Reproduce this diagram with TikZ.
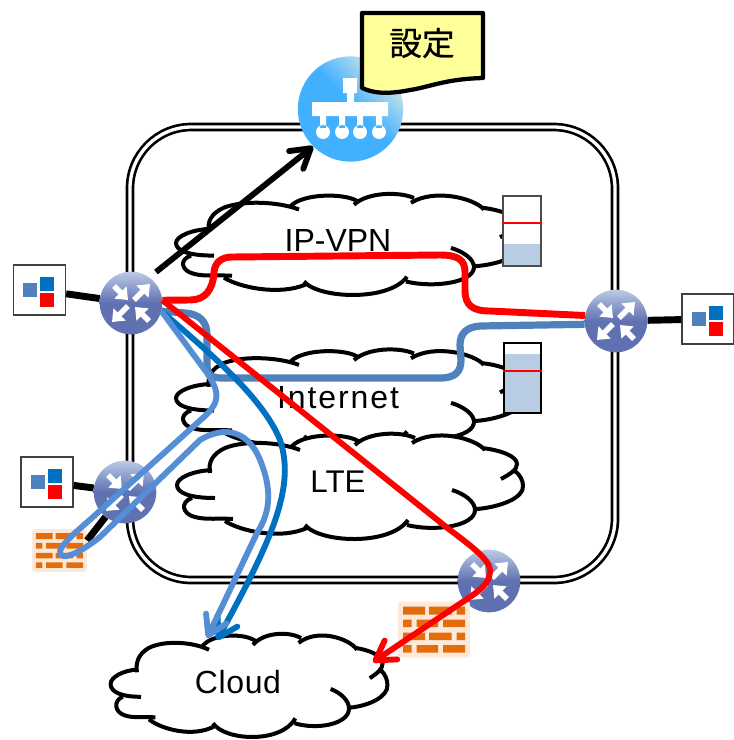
\documentclass[tikz,border=0pt]{standalone}
\usepackage{fontspec}
\setmainfont{Liberation Sans}
\newfontfamily\cjkfont[FakeBold=0.6]{Noto Sans CJK JP}
\usetikzlibrary{shapes,arrows,arrows.meta}
\definecolor{routerblue}{HTML}{6071B1}
\definecolor{routerlight}{HTML}{BCCAE6}
\definecolor{ctrlblue}{HTML}{41B0FF}
\definecolor{ctrllight}{HTML}{BFE0EA}
\definecolor{noteyellow}{HTML}{FFFF99}
\definecolor{brickorange}{HTML}{E46C0A}
\definecolor{brickback}{HTML}{FDE9D9}
\definecolor{levelblue}{HTML}{B8CCE4}
\definecolor{steelblue}{HTML}{4F81BD}
\definecolor{darkblue}{HTML}{0070C0}
\definecolor{lightblue}{HTML}{558ED5}
\pgfdeclareverticalshading{routershade}{100bp}{color(0bp)=(routerblue); color(50bp)=(routerblue); color(75bp)=(routerlight); color(100bp)=(routerlight)}
\pgfdeclareverticalshading{ctrlshade}{100bp}{color(0bp)=(ctrlblue); color(52bp)=(ctrlblue); color(72bp)=(ctrllight); color(100bp)=(ctrllight)}
\tikzstyle{frame} = [rectangle, draw=black, line width=2pt, double, double distance=2.5pt, rounded corners=46pt, minimum width=363.75pt, minimum height=339.75pt]
\tikzstyle{cloudline} = [draw=black, line width=3pt, fill=white]
\tikzstyle{cloudtext} = [font=\fontsize{24}{24}\selectfont, inner sep=0pt]
\tikzstyle{router} = [circle, shading=routershade, minimum size=47pt, inner sep=0pt]
\tikzstyle{ctrl} = [circle, shading=ctrlshade, shading angle=-45, minimum size=79pt, inner sep=0pt]
\tikzstyle{site} = [rectangle, draw=black!75, line width=1pt, fill=white, minimum width=39pt, minimum height=37.5pt, inner sep=0pt]
\tikzstyle{gauge} = [rectangle, draw=black!70, line width=1.3pt, fill=white, inner sep=0pt]
\tikzstyle{note} = [draw=black, line width=3.2pt, line join=round, fill=noteyellow]
\tikzstyle{firewall} = [rectangle, fill=brickback, rounded corners=2pt, minimum width=54pt, minimum height=42pt, inner sep=0pt, transform shape]
\tikzstyle{inarrow} = [draw=white, line width=4pt, -{Triangle[length=8pt,width=12.5pt]}]
\tikzstyle{wire} = [draw=black, line width=5.2pt]
\tikzstyle{arrow} = [line width=4.4pt, -{Straight Barb[length=14pt,width=17pt,round]}]
\newcommand{\netcloud}[5]{
  \begin{scope}[shift={(#2,#3)},xscale=#4,yscale=#5]
    \fill [white] (-140,-15) -- (-172,-3) -- (-165,20) -- (-125,33) -- (-83,47) -- (7,52) -- (83,40) -- (125,22) -- (173,-2) -- (167,-24) -- (132,-40) -- (97,-53) -- (33,-53) -- (-27,-52) -- (-90,-45) -- (-135,-35) -- cycle;
    \draw [cloudline] (-138,-18) .. controls (-158,-17) and (-173,-10) .. (-173,-3) .. controls (-173,5) and (-160,10) .. (-135,10)
      (-158,10) .. controls (-170,14) and (-168,26) .. (-155,29) .. controls (-145,32) and (-130,30) .. (-117,31)
      (-125,33) .. controls (-110,43) and (-70,52) .. (-43,40)
      (-45,37) .. controls (-30,55) and (40,58) .. (58,32)
      (57,37) .. controls (85,44) and (125,38) .. (125,22) .. controls (125,14) and (115,6) .. (102,2)
      (127,21) .. controls (150,19) and (174,10) .. (173,-2) .. controls (173,-8) and (170,-13) .. (165,-17)
      (151,-9) .. controls (160,-14) and (167,-18) .. (167,-24) .. controls (167,-32) and (150,-38) .. (132,-40)
      (135,-38) .. controls (125,-50) and (85,-60) .. (62,-45)
      (65,-50) .. controls (50,-57) and (18,-56) .. (5,-43)
      (8,-47) .. controls (-5,-55) and (-45,-55) .. (-58,-42)
      (-50,-38) .. controls (-70,-46) and (-105,-48) .. (-125,-40) .. controls (-138,-34) and (-142,-25) .. (-140,-15);
  \end{scope}
}
\newcommand{\routernode}[3]{
  \node (#1) [router] at (#2,#3) {};
  \draw [inarrow] ([shift={(-17,-17)}]#1.center) -- ([shift={(-3,-3)}]#1.center);
  \draw [inarrow] ([shift={(3,-3)}]#1.center) -- ([shift={(19,-19)}]#1.center);
  \draw [inarrow] ([shift={(-3,3)}]#1.center) -- ([shift={(-19,19)}]#1.center);
  \draw [inarrow] ([shift={(18,18)}]#1.center) -- ([shift={(4,4)}]#1.center);
}
\newcommand{\sitenode}[3]{
  \node (#1) [site] at (#2,#3) {};
  \fill [steelblue] ([shift={(-16.5,-7)}]#1.center) rectangle +(14,14);
  \fill [darkblue] ([shift={(0.5,-13)}]#1.center) rectangle +(14,14);
  \fill [red] ([shift={(0.5,3)}]#1.center) rectangle +(14,14);
}
\newcommand{\firewallnode}[4]{
  \begin{scope}[shift={(#2,#3)},scale=#4]
    \node (#1) [firewall] at (0,0) {};
    \fill [brickorange] (-31,-23) rectangle (-9,-15) (-5,-23) rectangle (17.5,-15) (22.5,-23) rectangle (31,-15)
      (-31,-10) rectangle (-22.5,-2.5) (-17.5,-10) rectangle (4,-2.5) (9,-10) rectangle (31,-2.5)
      (-31,3) rectangle (-9,10.5) (-5,3) rectangle (17.5,10.5) (22.5,3) rectangle (31,10.5)
      (-31,15.5) rectangle (-22.5,23) (-17.5,15.5) rectangle (4,23) (9,15.5) rectangle (31,23);
  \end{scope}
}
\begin{document}
\begin{tikzpicture}[x=0.75pt,y=-0.75pt]
        \useasboundingbox (0,0) rectangle (733,740);
        \node (domain) [frame] at (372.5,353.5) {};
        % the overlay networks
        \netcloud{vpncloud}{349}{246}{1}{0.96}
        \node (vpn) [cloudtext] at (338,240) {IP-VPN};
        \netcloud{netcloud}{349}{401}{1}{0.95}
        \node (net) [cloudtext] at (338,398) {\addfontfeature{LetterSpace=6}Internet};
        \netcloud{ltecloud}{350}{488}{1}{1}
        \node (lte) [cloudtext, font=\fontsize{23.5}{23.5}\selectfont] at (338,482) {LTE};
        \netcloud{extcloud}{249}{687}{0.8}{0.98}
        \node (ext) [cloudtext] at (238,682) {\addfontfeature{LetterSpace=2}Cloud};
        % queue levels
        \node (vpnbar) [gauge, minimum width=28pt, minimum height=52.5pt] at (522,231) {};
        \fill [levelblue] (504,244) rectangle (540,265);
        \draw [red, line width=1.1pt] (vpnbar.west |- 0,223) -- (vpnbar.east |- 0,223);
        \node (netbar) [gauge, draw=black, minimum width=27.5pt, minimum height=52.5pt] at (522.5,378) {};
        \fill [levelblue] (505,354) rectangle (540,412);
        \draw [red, line width=1.1pt] (netbar.west |- 0,371) -- (netbar.east |- 0,371);
        % controller and its note
        \node (ctrl) [ctrl] at (350.5,109) {};
        \fill [white] (343,78) rectangle (357,93) (347,93) rectangle (354,102) (312,102) rectangle (388,116)
          (320,116) rectangle (326,128) (339,116) rectangle (345,128) (357,116) rectangle (363,128) (376,116) rectangle (382,128)
          (323,132) circle (7) (342,132) circle (7) (360,132) circle (7) (379,132) circle (7);
        \draw [note] (362,13) -- (483,13) -- (483,78) .. controls (445,79) and (430,87) .. (410,90) .. controls (390,94) and (375,94) .. (362,88) -- cycle;
        \node (setting) at (422,43) {\cjkfont\fontsize{24.5}{24.5}\selectfont 設定};
        % edge devices
        \routernode{ra}{131}{303}
        \routernode{rb}{616}{321}
        \routernode{rc}{125}{492}
        \routernode{rd}{489}{581}
        \sitenode{sitea}{39.5}{290}
        \sitenode{siteb}{708}{319}
        \sitenode{sitec}{47}{482}
        \firewallnode{fwa}{59.5}{550.5}{0.76}
        \firewallnode{fwb}{434}{629.5}{1}
        \draw [wire] (sitea) -- (ra);
        \draw [wire] (siteb) -- (rb);
        \draw [wire] (sitec) -- (rc);
        \draw [wire] (rc) -- ([yshift=7.5pt]fwa.east);
        \coordinate (mgmt) at (156,272);
        \draw [arrow] (mgmt) -- (ctrl.225);
        % traffic paths
        \draw [steelblue, line width=5.4pt] (ra.-15) -- (185,313) .. controls (200,314) and (207,322) .. (207,335) -- (207,365) .. controls (207,375) and (212,378) .. (222,378) -- (440,378) .. controls (455,378) and (461,372) .. (461,360) -- (460,345) .. controls (460,333) and (467,327) .. (480,326) -- (rb.186);
        \draw [arrow, darkblue] (ra.-15) .. controls (200,345) and (262,395) .. (280,440) .. controls (295,485) and (275,535) .. (217,640);
        \draw [arrow, lightblue] (ra.-15) -- (207,373) .. controls (218,390) and (222,400) .. (205,416) -- (93,517) .. controls (75,533) and (50,553) .. (64,556) .. controls (72,557) and (90,545) .. (100,537) -- (200,440) .. controls (225,425) and (250,430) .. (262,465) .. controls (275,500) and (265,520) .. (257,533) -- (207,638);
        \draw [red, line width=5.2pt] (ra.5) -- (190,300) .. controls (205,300) and (213,290) .. (214,272) .. controls (215,262) and (222,257) .. (232,257) -- (440,255) .. controls (458,255) and (465,260) .. (465,272) -- (465,290) .. controls (465,305) and (472,311) .. (490,311) -- (rb.170);
        \draw [arrow, red] (ra.5) -- (450,530) .. controls (470,545) and (490,560) .. (490,570) .. controls (490,580) and (485,587) .. (470,597) -- (373,662);
\end{tikzpicture}
\end{document}
